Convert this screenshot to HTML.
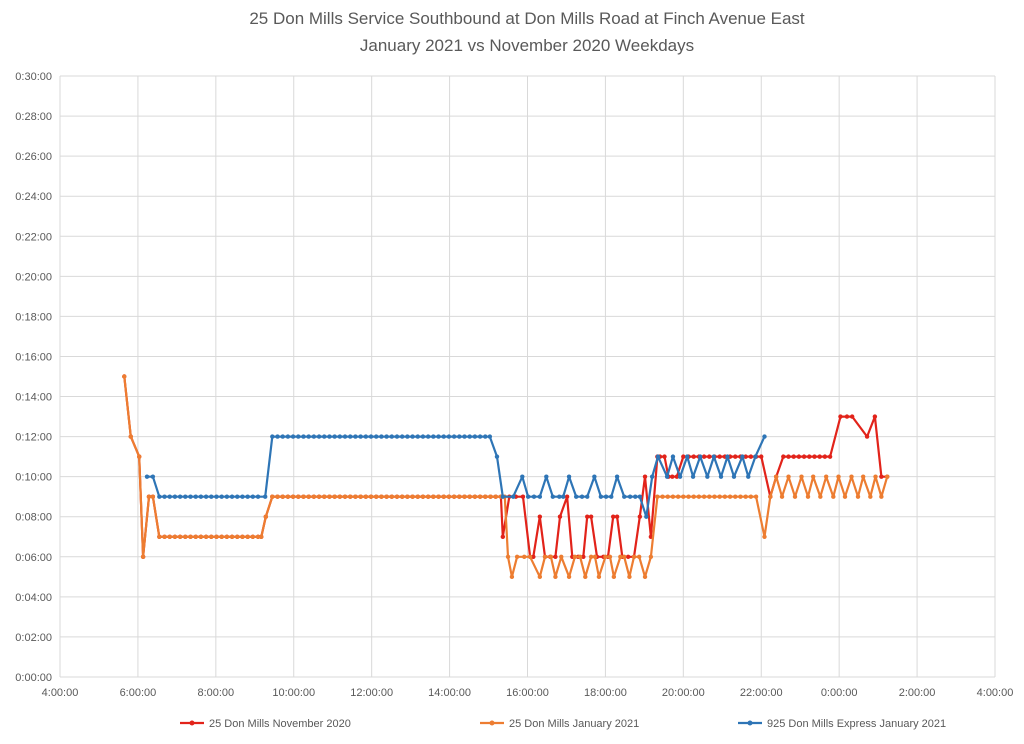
<!DOCTYPE html>
<html><head><meta charset="utf-8"><style>
body{margin:0;background:#fff;font-family:"Liberation Sans",sans-serif}
</style></head><body>
<svg id="chart" width="1024" height="739" xmlns="http://www.w3.org/2000/svg" style="font-family:'Liberation Sans',sans-serif">
<text x="527" y="24" text-anchor="middle" font-size="17" fill="#595959">25 Don Mills Service Southbound at Don Mills Road at Finch Avenue East</text>
<text x="527" y="51" text-anchor="middle" font-size="17" fill="#595959">January 2021 vs November 2020 Weekdays</text>
<g id="grid"></g><g id="series"></g><g id="legend"></g>
</svg>
<script>
const yTicks=[0,2,4,6,8,10,12,14,16,18,20,22,24,26,28,30];
const yTickLabels=["0:00:00","0:02:00","0:04:00","0:06:00","0:08:00","0:10:00","0:12:00","0:14:00","0:16:00","0:18:00","0:20:00","0:22:00","0:24:00","0:26:00","0:28:00","0:30:00"];
const xTicks=[240,360,480,600,720,840,960,1080,1200,1320,1440,1560,1680];
const xTickLabels=["4:00:00","6:00:00","8:00:00","10:00:00","12:00:00","14:00:00","16:00:00","18:00:00","20:00:00","22:00:00","0:00:00","2:00:00","4:00:00"];
const seriesNames=["25 Don Mills November 2020","25 Don Mills January 2021","925 Don Mills Express January 2021"];
const run7Times=[401,409,417,425,433,441,449,457,465,473,481,489,497,505,513,521,529,537,545];
const run9Times=[575,583,591,599,607,615,623,631,639,647,655,663,671,679,687,695,703,711,719,727,735,743,751,759,767,775,783,791,799,807,815,823,831,839,847,855,863,871,879,887,895,903,911,919];
const janTimes=[339,349,362,368,377,383,393].concat(run7Times,[550,557,567],run9Times,[925,930,936,944,955,964,979,987,996,1003,1012,1024,1033,1041,1049,1058,1064,1070,1080,1087,1093,1103,1109,1117,1124,1132,1141,1150,1160,1168,1176,1184,1192,1200,1208,1216,1224,1232,1240,1248,1256,1264,1272,1280,1288,1296,1304,1312,1325,1334,1343,1352,1362,1372,1382,1392,1400,1411,1420,1431,1439,1449,1459,1469,1477,1488,1496,1505,1514]);
const janValues=[15,12,11,6,9,9,7].concat(run7Times.map(()=>7),[7,8,9],run9Times.map(()=>9),[9,6,5,6,6,6,5,6,6,5,6,5,6,6,5,6,6,5,6,6,5,6,6,5,6,6,5,6,9,9,9,9,9,9,9,9,9,9,9,9,9,9,9,9,9,9,9,9,7,9,10,9,10,9,10,9,10,9,10,9,10,9,10,9,10,9,10,9,10]);
const novTimes=[339,349,362,368,377,383,393].concat(run7Times,[550,557,567],run9Times,[922,932,942,953,964,969,979,987,995,1003,1010,1021,1029,1038,1046,1052,1058,1067,1077,1084,1092,1098,1106,1115,1124,1133,1141,1150,1160,1164,1171,1177,1183,1190,1200,1208,1216,1224,1232,1240,1248,1256,1264,1272,1280,1288,1296,1304,1312,1320,1334,1343,1354,1362,1370,1378,1386,1394,1402,1410,1418,1426,1442,1452,1460,1483,1495,1505,1514]);
const novValues=[15,12,11,6,9,9,7].concat(run7Times.map(()=>7),[7,8,9],run9Times.map(()=>9),[7,9,9,9,6,6,8,6,6,6,8,9,6,6,6,8,8,6,6,6,8,8,6,6,6,8,10,7,11,11,11,10,10,10,11,11,11,11,11,11,11,11,11,11,11,11,11,11,11,11,9,10,11,11,11,11,11,11,11,11,11,11,13,13,13,12,13,10,10]);
const run12Times=[575,583,591,599,607,615,623,631,639,647,655,663,671,679,687,695,703,711,719,727,735,743,751,759,767,775,783,791,799,807,815,823,831,839,847,855,863,871,879,887,895,902];
const expTimes=[374,383,393].concat(run7Times,[556,567],run12Times,[913,922,938,952,961,970,979,989,999,1009,1015,1024,1035,1044,1052,1063,1073,1081,1089,1098,1109,1118,1126,1133,1143,1152,1161,1175,1184,1195,1206,1215,1226,1237,1247,1258,1268,1278,1291,1300,1311,1325]);
const expValues=[10,10,9].concat(run7Times.map(()=>9),[9,12],run12Times.map(()=>12),[11,9,9,10,9,9,9,10,9,9,9,10,9,9,9,10,9,9,9,10,9,9,9,9,8,10,11,10,11,10,11,10,11,10,11,10,11,10,11,10,11,12]);
const colors=["#E2231A","#ED7D31","#2E75B6"];

const NS="http://www.w3.org/2000/svg";
const X0=60,X1=995,Y0=677,Y1=76;
const xs=m=>X0+(m-240)/(1680-240)*(X1-X0);
const ys=v=>Y0-(v/30)*(Y0-Y1);
function mk(tag,attrs,parent){const e=document.createElementNS(NS,tag);for(const k in attrs)e.setAttribute(k,attrs[k]);parent.appendChild(e);return e;}
const grid=document.getElementById('grid');
yTicks.forEach((t,i)=>{
  const l=mk('line',{x1:X0,x2:X1,y1:ys(t),y2:ys(t),stroke:'#d9d9d9','stroke-width':1},grid);
  
  
  const tx=mk('text',{x:52,y:ys(t)+4,'text-anchor':'end','font-size':11,fill:'#595959'},grid);
  tx.textContent=yTickLabels[i];
  
  
});
xTicks.forEach((t,i)=>{
  const l=mk('line',{x1:xs(t),x2:xs(t),y1:Y1,y2:Y0,stroke:'#d9d9d9','stroke-width':1},grid);
  
  
  const tx=mk('text',{x:xs(t),y:696,'text-anchor':'middle','font-size':11,fill:'#595959'},grid);
  tx.textContent=xTickLabels[i];
  
  
});
const sg=document.getElementById('series');
function drawSeries(times,vals,color,name){
  const g=mk('g',{},sg);
  
  
  const pts=times.map((t,i)=>xs(t).toFixed(1)+','+ys(vals[i]).toFixed(1)).join(' ');
  const pl=mk('polyline',{points:pts,fill:'none',stroke:color,'stroke-width':2.2,'stroke-linejoin':'round'},g);
  
  
  times.forEach((t,i)=>{
    const c=mk('circle',{cx:xs(t),cy:ys(vals[i]),r:2.2,fill:color},g);
    
    
  });
}
drawSeries(novTimes,novValues,colors[0],'series-nov-2020');
drawSeries(janTimes,janValues,colors[1],'series-jan-2021');
drawSeries(expTimes,expValues,colors[2],'series-express-jan-2021');
const lg=document.getElementById('legend');
const lx=[180,480,738];
seriesNames.forEach((n,i)=>{
  const g=mk('g',{},lg);
  
  
  mk('line',{x1:lx[i],x2:lx[i]+24,y1:723,y2:723,stroke:colors[i],'stroke-width':2.2},g);
  mk('circle',{cx:lx[i]+12,cy:723,r:2.5,fill:colors[i]},g);
  const t=mk('text',{x:lx[i]+29,y:727,'font-size':11,fill:'#595959'},g);
  t.textContent=n;
});
</script>
</body></html>
